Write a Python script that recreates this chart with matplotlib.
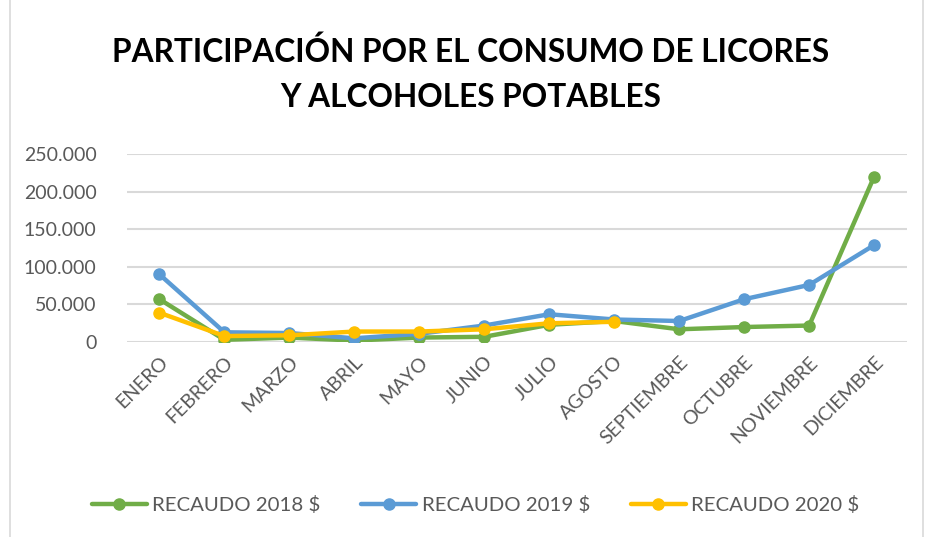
import matplotlib.pyplot as plt
import matplotlib.patches as mpatches
from matplotlib.ticker import FuncFormatter

# data
meses = ["ENERO", "FEBRERO", "MARZO", "ABRIL", "MAYO", "JUNIO",
         "JULIO", "AGOSTO", "SEPTIEMBRE", "OCTUBRE", "NOVIEMBRE", "DICIEMBRE"]

recaudo_2018 = [57000, 3000, 6000, 2000, 6000, 7000,
                23000, 28000, 17000, 20000, 22000, 220000]
recaudo_2019 = [90000, 13000, 12000, 5000, 11000, 22000,
                37000, 30000, 28000, 57000, 76000, 129000]
recaudo_2020 = [39000, 8000, 9000, 14000, 14000, 17000,
                25000, 27000]

series = [
    ("RECAUDO 2018 $", recaudo_2018, "#70AD47"),
    ("RECAUDO 2019 $", recaudo_2019, "#5B9BD5"),
    ("RECAUDO 2020 $", recaudo_2020, "#FFC000"),
]

plt.rcParams["font.family"] = ["Lato", "DejaVu Sans"]

fig = plt.figure(figsize=(9.27, 5.37), dpi=100)

# light frame round the chart
fig.patches.append(
    mpatches.Rectangle((0.011, -0.01), 0.985, 1.02, transform=fig.transFigure,
                       fill=False, edgecolor="#d9d9d9", linewidth=1.2)
)

ax = fig.add_axes([0.137, 0.363, 0.841, 0.350])

for label, values, color in series:
    ax.plot(range(len(values)), values, color=color, linewidth=3.2,
            marker="o", markersize=8, label=label, solid_capstyle="round")

ax.set_xlim(-0.5, len(meses) - 0.5)
ax.set_ylim(0, 250000)
ax.set_yticks(range(0, 250001, 50000))
ax.yaxis.set_major_formatter(
    FuncFormatter(lambda v, p: f"{int(v):,}".replace(",", "."))
)
ax.set_xticks(range(len(meses)))
ax.set_xticklabels(meses, rotation=45, ha="right", rotation_mode="anchor")

ax.grid(axis="y", color="#d9d9d9", linewidth=1.5)
ax.set_axisbelow(True)
for side in ax.spines.values():
    side.set_visible(False)
ax.tick_params(axis="both", length=0, labelsize=14, colors="#595959")
ax.tick_params(axis="y", pad=22)
ax.tick_params(axis="x", pad=8)

fig.text(0.508, 0.862, "PARTICIPACIÓN POR EL CONSUMO DE LICORES\nY ALCOHOLES POTABLES",
         ha="center", va="center", fontsize=22.8, fontweight="bold",
         color="#000000", linespacing=1.65)

fig.legend(loc="center", bbox_to_anchor=(0.513, 0.06), ncol=3,
           frameon=False, fontsize=14.7, handlelength=2.7, columnspacing=2.0,
           handletextpad=0.25, labelcolor="#595959")

plt.savefig("out.png", dpi=100)
